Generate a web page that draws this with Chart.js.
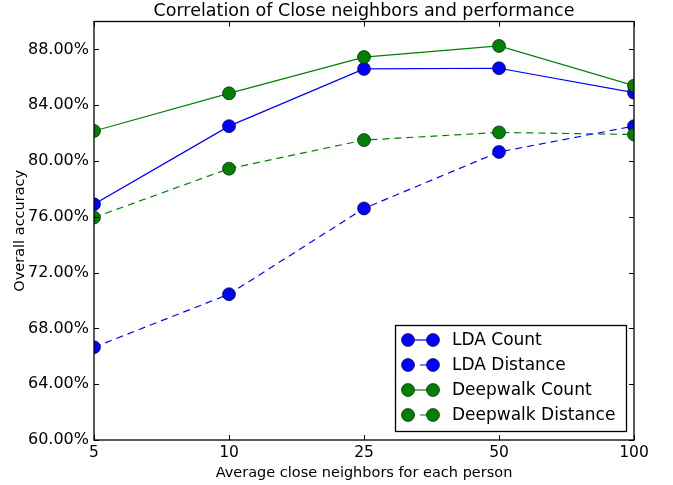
<!DOCTYPE html>
<html>
<head>
<meta charset="utf-8">
<script src="https://cdn.jsdelivr.net/npm/chart.js@4.4.0/dist/chart.umd.min.js"></script>
<style>
  html, body { margin: 0; padding: 0; background: #ffffff; }
  #wrap { width: 673px; height: 485px; }
</style>
</head>
<body>
<div id="wrap"><canvas id="c" width="673" height="485"></canvas></div>
<script>
const chartTitle = 'Correlation of Close neighbors and performance';
const xTitle = 'Average close neighbors for each person';
const yTitle = 'Overall accuracy';
const categories = ['5', '10', '25', '50', '100'];
const yTicks = [60, 64, 68, 72, 76, 80, 84, 88];
const seriesNames = ['LDA Count', 'LDA Distance', 'Deepwalk Count', 'Deepwalk Distance'];
const ldaCount = [76.9, 82.5, 86.6, 86.65, 84.9];
const ldaDistance = [66.65, 70.45, 76.6, 80.65, 82.5];
const deepwalkCount = [82.15, 84.85, 87.45, 88.25, 85.4];
const deepwalkDistance = [75.95, 79.45, 81.5, 82.05, 81.9];

const FONT = "'DejaVu Sans', sans-serif";

function ds(label, data, color, dashed, order) {
  return {
    label, data, order,
    borderColor: color,
    backgroundColor: color,
    borderWidth: 1.2,
    borderDash: dashed ? [7, 5] : [],
    pointRadius: 6.5,
    pointHoverRadius: 6.5,
    pointBackgroundColor: color,
    pointBorderColor: '#000000',
    pointBorderWidth: 0.6,
    tension: 0,
    fill: false,
    clip: 0
  };
}

const framePlugin = {
  id: 'frame',
  afterDraw(chart) {
    const ctx = chart.ctx;
    const a = chart.chartArea;
    ctx.save();
    ctx.strokeStyle = '#000000';
    ctx.lineWidth = 1.3;
    ctx.strokeRect(a.left, a.top, a.right - a.left, a.bottom - a.top);
    ctx.lineWidth = 1;
    const tl = 5;
    const ys = chart.scales.y;
    ys.ticks.forEach((t, i) => {
      const p = Math.round(ys.getPixelForTick(i)) + 0.5;
      ctx.beginPath();
      ctx.moveTo(a.left, p); ctx.lineTo(a.left + tl, p);
      ctx.moveTo(a.right, p); ctx.lineTo(a.right - tl, p);
      ctx.stroke();
    });
    const xs = chart.scales.x;
    xs.ticks.forEach((t, i) => {
      const p = Math.round(xs.getPixelForTick(i)) + 0.5;
      ctx.beginPath();
      ctx.moveTo(p, a.bottom); ctx.lineTo(p, a.bottom - tl);
      ctx.moveTo(p, a.top); ctx.lineTo(p, a.top + tl);
      ctx.stroke();
    });
    // title
    ctx.fillStyle = '#000000';
    ctx.font = '17.5px ' + FONT;
    ctx.textAlign = 'center';
    ctx.textBaseline = 'middle';
    ctx.fillText(chartTitle, (a.left + a.right) / 2, 11);

    // legend
    const bx = 395.5, by = 325.5, bw = 231, bh = 106;
    ctx.fillStyle = '#ffffff';
    ctx.fillRect(bx, by, bw, bh);
    ctx.strokeStyle = '#000000';
    ctx.lineWidth = 1.3;
    ctx.strokeRect(bx, by, bw, bh);
    const rows = [340, 365, 390, 415];
    chart.data.datasets.forEach((d, i) => {
      const y = rows[i];
      ctx.save();
      ctx.strokeStyle = d.borderColor;
      ctx.lineWidth = d.borderWidth;
      ctx.setLineDash(d.borderDash);
      ctx.beginPath();
      ctx.moveTo(408, y); ctx.lineTo(433, y);
      ctx.stroke();
      ctx.restore();
      [408, 433].forEach(cx => {
        ctx.beginPath();
        ctx.arc(cx, y, d.pointRadius, 0, Math.PI * 2);
        ctx.fillStyle = d.pointBackgroundColor;
        ctx.fill();
        ctx.lineWidth = d.pointBorderWidth;
        ctx.strokeStyle = '#000000';
        ctx.stroke();
      });
      ctx.fillStyle = '#000000';
      ctx.font = '17px ' + FONT;
      ctx.textAlign = 'left';
      ctx.textBaseline = 'middle';
      ctx.fillText(d.label, 452, y + 1);
    });
    ctx.restore();
  }
};

new Chart(document.getElementById('c'), {
  type: 'line',
  data: {
    labels: categories,
    datasets: [
      ds(seriesNames[0], ldaCount, '#0000ff', false, 4),
      ds(seriesNames[1], ldaDistance, '#0000ff', true, 3),
      ds(seriesNames[2], deepwalkCount, '#008000', false, 2),
      ds(seriesNames[3], deepwalkDistance, '#008000', true, 1)
    ]
  },
  options: {
    responsive: false,
    animation: false,
    devicePixelRatio: 1,
    layout: { padding: { top: 21.5, right: 39, left: 0, bottom: 0 } },
    plugins: { legend: { display: false }, tooltip: { enabled: false }, title: { display: false } },
    scales: {
      x: {
        type: 'category',
        offset: false,
        grid: { display: false, drawTicks: false },
        border: { display: false },
        ticks: { color: '#000', font: { family: FONT, size: 15.5 }, padding: 4, maxRotation: 0, autoSkip: false },
        title: { display: true, text: xTitle, color: '#000', font: { family: FONT, size: 14.5 }, padding: { top: 0, bottom: 3.5 } },
        afterFit(s) { s.height = 45; }
      },
      y: {
        type: 'linear',
        min: 60, max: 90,
        grid: { display: false, drawTicks: false },
        border: { display: false },
        afterBuildTicks(s) { s.ticks = yTicks.map(v => ({ value: v })); },
        ticks: { color: '#000', font: { family: FONT, size: 16 }, padding: 5, callback: v => v.toFixed(2) + '%' },
        title: { display: true, text: yTitle, color: '#000', font: { family: FONT, size: 14.5 }, padding: { top: 12, bottom: 0 } },
        afterFit(s) { s.width = 94; }
      }
    }
  },
  plugins: [framePlugin]
});
</script>
</body>
</html>
